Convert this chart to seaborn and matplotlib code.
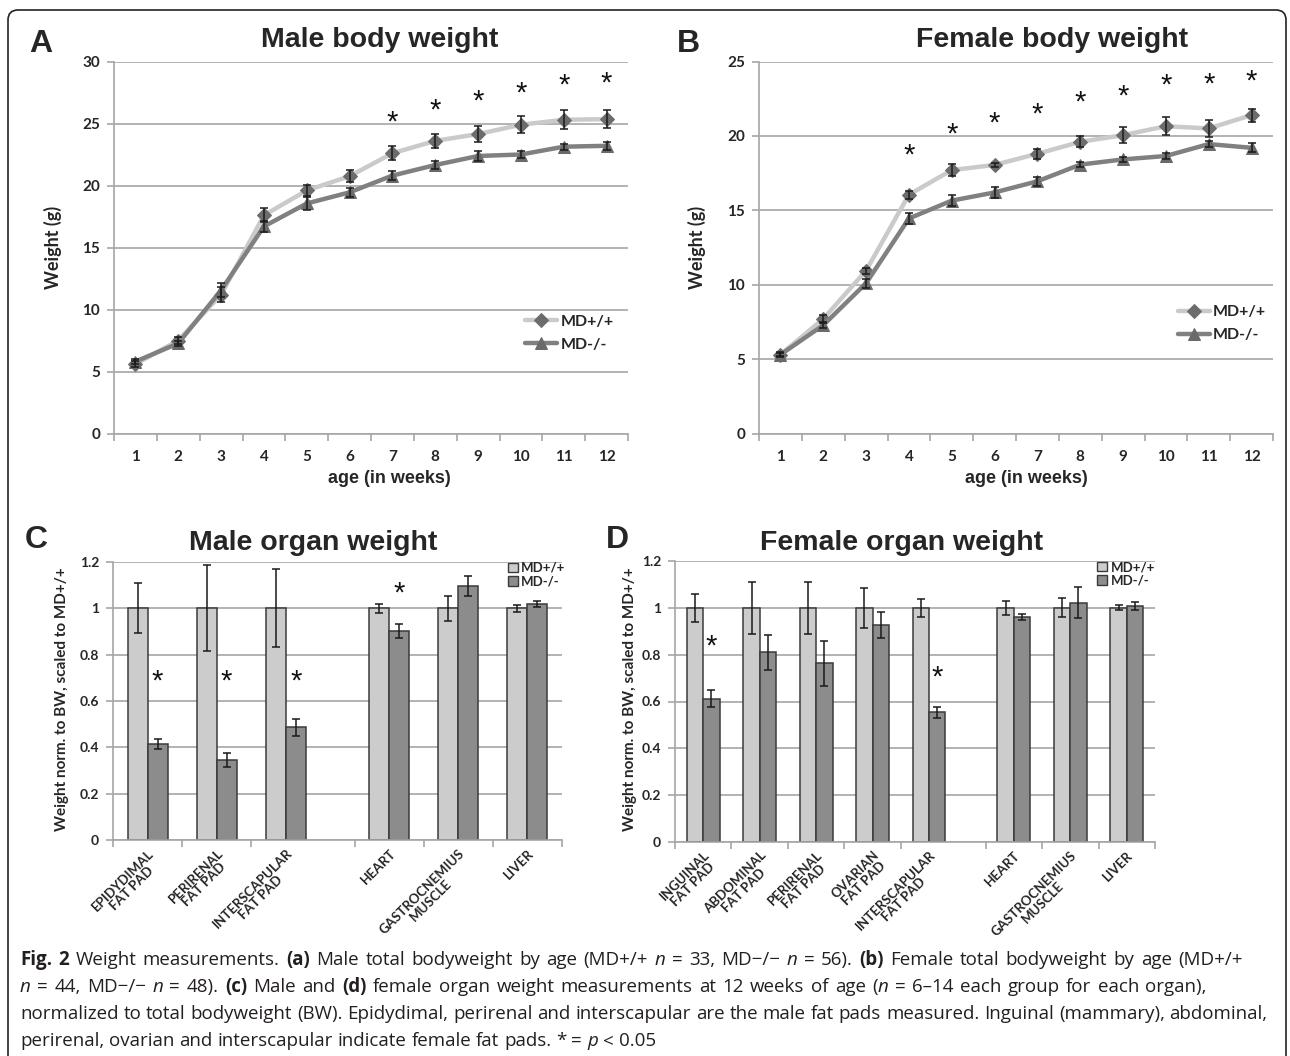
import re
import numpy as np
import pandas as pd
import seaborn as sns
import matplotlib.pyplot as plt
from matplotlib.patches import FancyBboxPatch, Patch
from matplotlib.transforms import IdentityTransform, offset_copy
from matplotlib.font_manager import FontProperties

# ---------------- data ----------------
weeks = list(range(1, 13))

male_wt = [5.6, 7.5, 11.2, 17.6, 19.6, 20.75, 22.6, 23.6, 24.15, 24.9, 25.3, 25.35]
male_wt_err = [0.25, 0.25, 0.6, 0.55, 0.43, 0.5, 0.56, 0.55, 0.63, 0.69, 0.78, 0.74]
male_ko = [5.8, 7.27, 11.55, 16.7, 18.55, 19.45, 20.8, 21.65, 22.38, 22.5, 23.13, 23.2]
male_ko_err = [0.2, 0.2, 0.55, 0.47, 0.5, 0.35, 0.38, 0.35, 0.4, 0.3, 0.25, 0.3]
male_star_weeks = [7, 8, 9, 10, 11, 12]
male_star_y = [25.7, 26.7, 27.4, 28.1, 28.7, 28.9]

female_wt = [5.3, 7.7, 10.95, 16.05, 17.7, 18.05, 18.8, 19.6, 20.05, 20.65, 20.5, 21.4]
female_wt_err = [0.15, 0.27, 0.2, 0.28, 0.41, 0.15, 0.33, 0.37, 0.56, 0.62, 0.56, 0.44]
female_ko = [5.3, 7.28, 10.1, 14.45, 15.65, 16.2, 16.95, 18.07, 18.42, 18.65, 19.45, 19.2]
female_ko_err = [0.12, 0.2, 0.3, 0.36, 0.38, 0.36, 0.29, 0.19, 0.17, 0.23, 0.22, 0.3]
female_star_weeks = [4, 5, 6, 7, 8, 9, 10, 11, 12]
female_star_y = [19.25, 20.6, 21.4, 22.0, 22.8, 23.2, 23.9, 24.0, 24.2]

male_organs = ['EPIDYDIMAL\nFAT PAD', 'PERIRENAL\nFAT PAD', 'INTERSCAPULAR\nFAT PAD',
               'HEART', 'GASTROCNEMIUS\nMUSCLE', 'LIVER']
male_n_fat = 3
male_organ_wt = [1.0, 1.0, 1.0, 1.0, 1.0, 1.0]
male_organ_wt_err = [0.108, 0.186, 0.168, 0.018, 0.054, 0.015]
male_organ_ko = [0.414, 0.347, 0.486, 0.902, 1.096, 1.019]
male_organ_ko_err = [0.02, 0.03, 0.037, 0.03, 0.044, 0.012]
male_organ_star = [0, 1, 2, 3]
male_organ_star_y = [0.717, 0.717, 0.717, 1.098]

female_organs = ['INGUINAL\nFAT PAD', 'ABDOMINAL\nFAT PAD', 'PERIRENAL\nFAT PAD', 'OVARIAN\nFAT PAD',
                 'INTERSCAPULAR\nFAT PAD', 'HEART', 'GASTROCNEMIUS\nMUSCLE', 'LIVER']
female_n_fat = 5
female_organ_wt = [1.0, 1.0, 1.0, 1.0, 1.0, 1.0, 1.0, 1.0]
female_organ_wt_err = [0.06, 0.111, 0.111, 0.084, 0.038, 0.03, 0.04, 0.01]
female_organ_ko = [0.612, 0.811, 0.763, 0.928, 0.554, 0.961, 1.022, 1.007]
female_organ_ko_err = [0.035, 0.075, 0.095, 0.056, 0.024, 0.013, 0.067, 0.018]
female_organ_star = [0, 4]
female_organ_star_y = [0.868, 0.737]

caption = [
    [("Fig. 2", 'b'), (" Weight measurements. ", 'r'), ("(a)", 'b'),
     (" Male total bodyweight by age (MD+/+ ", 'r'), ("n", 'i'), (" = 33, MD\u2212/\u2212 ", 'r'),
     ("n", 'i'), (" = 56). ", 'r'), ("(b)", 'b'), (" Female total bodyweight by age (MD+/+", 'r')],
    [("n", 'i'), (" = 44, MD\u2212/\u2212 ", 'r'), ("n", 'i'), (" = 48). ", 'r'), ("(c)", 'b'),
     (" Male and ", 'r'), ("(d)", 'b'),
     (" female organ weight measurements at 12 weeks of age (", 'r'), ("n", 'i'),
     (" = 6\u201314 each group for each organ),", 'r')],
    [("normalized to total bodyweight (BW). Epidydimal, perirenal and interscapular are the male "
      "fat pads measured. Inguinal (mammary), abdominal,", 'r')],
    [("perirenal, ovarian and interscapular indicate female fat pads. * = ", 'r'), ("p", 'i'),
     (" < 0.05", 'r')],
]

# ---------------- styling ----------------
sns.set_theme(style='white')
plt.rcParams['font.family'] = ['Lato', 'DejaVu Sans']

W, H = 1290, 1056
fig = plt.figure(figsize=(W / 100, H / 100), dpi=100)

GRID = '#a6a6a6'
WT_LINE, WT_MARK = '#cacaca', '#6c6c6c'
KO_LINE, KO_MARK = '#808080', '#6a6a6a'
LIGHT_BAR, DARK_BAR, BAR_EDGE = '#cccccc', '#8c8c8c', '#3a3a3a'
ARIAL = ['Liberation Sans', 'DejaVu Sans']


def rect(left, top, right, bottom):
    return [left / W, 1 - bottom / H, (right - left) / W, (bottom - top) / H]


def style_axes(ax, ytick_size):
    for s in ['top', 'right']:
        ax.spines[s].set_visible(False)
    for s in ['left', 'bottom']:
        ax.spines[s].set_color(GRID)
        ax.spines[s].set_linewidth(1.2)
    ax.yaxis.grid(True, color=GRID, lw=1.2)
    ax.xaxis.grid(False)
    ax.set_axisbelow(True)
    ax.tick_params(axis='y', which='major', left=True, direction='out', length=5, width=1.2,
                   color=GRID, pad=5, labelsize=ytick_size)
    ax.tick_params(axis='x', which='major', bottom=True, length=0)
    ax.tick_params(axis='x', which='minor', bottom=True, direction='out', length=5, width=1.2,
                   color=GRID)
    for lab in ax.get_yticklabels():
        lab.set_fontweight('bold')


def add_stars(ax, xs, ys, size):
    tr = offset_copy(ax.transData, fig=fig, y=-0.55 * size, units='points')
    for x, y in zip(xs, ys):
        ax.text(x, y, '*', transform=tr, ha='center', va='baseline', fontsize=size,
                family=ARIAL, color='#111111')


def body_panel(box, wt, wt_err, ko, ko_err, star_w, star_y, ymax, leg_anchor, xlab_x, ylab_x):
    ax = fig.add_axes(rect(*box))
    sns.lineplot(x=weeks, y=wt, ax=ax, color=WT_LINE, lw=3.2, marker='D', markersize=7,
                 markerfacecolor=WT_MARK, markeredgecolor=WT_MARK, label='MD+/+')
    sns.lineplot(x=weeks, y=ko, ax=ax, color=KO_LINE, lw=3.2, marker='^', markersize=9,
                 markerfacecolor=KO_MARK, markeredgecolor=KO_MARK, label='MD-/-')
    ax.errorbar(weeks, wt, yerr=wt_err, fmt='none', ecolor='#1a1a1a', elinewidth=1.1,
                capsize=3.2, capthick=1.1, zorder=4)
    ax.errorbar(weeks, ko, yerr=ko_err, fmt='none', ecolor='#1a1a1a', elinewidth=1.1,
                capsize=3.2, capthick=1.1, zorder=4)
    ax.set_xlim(0.5, 12.5)
    ax.set_ylim(0, ymax)
    ax.set_yticks(np.arange(0, ymax + 1, 5))
    ax.set_xticks(weeks)
    ax.set_xticklabels([str(w) for w in weeks], fontsize=11, fontweight='bold')
    ax.set_xticks(np.arange(0.5, 13, 1), minor=True)
    style_axes(ax, 11)
    ax.tick_params(axis='x', which='major', pad=12)
    ax.set_xlabel('age (in weeks)', fontsize=13, fontweight='bold', family=ARIAL)
    ax.xaxis.set_label_coords(xlab_x, -0.12)
    ax.xaxis.label.set_va('center')
    ax.set_ylabel('Weight (g)', fontsize=13, fontweight='bold')
    ax.yaxis.set_label_coords(ylab_x, 0.5)
    ax.yaxis.label.set_va('center')
    ax.legend(loc='upper left', bbox_to_anchor=leg_anchor, frameon=False, handlelength=2.0,
              handletextpad=0.2, labelspacing=0.55, borderpad=0, borderaxespad=0,
              prop=FontProperties(family='Lato', weight='bold', size=11.5))
    add_stars(ax, star_w, star_y, 21)
    return ax


def organ_panel(box, organs, n_fat, wt, wt_err, ko, ko_err, star_idx, star_y, ylab_x):
    ax = fig.add_axes(rect(*box))
    n = len(organs)
    pos = [i if i < n_fat else i + 0.5 for i in range(n)]
    df = pd.DataFrame({'pos': pos * 2, 'weight': wt + ko,
                       'genotype': ['MD+/+'] * n + ['MD-/-'] * n})
    sns.barplot(data=df, x='pos', y='weight', hue='genotype', native_scale=True, width=0.58,
                palette=[LIGHT_BAR, DARK_BAR], edgecolor=BAR_EDGE, linewidth=1.1,
                errorbar=None, legend=False, ax=ax)
    centers = {}
    for cont, g, err in zip(ax.containers, ['MD+/+', 'MD-/-'], [wt_err, ko_err]):
        for bar in cont:
            cx = bar.get_x() + bar.get_width() / 2
            i = int(np.argmin(np.abs(np.array(pos) - cx)))
            centers[(g, i)] = cx
            ax.errorbar(cx, bar.get_height(), yerr=err[i], fmt='none', ecolor='#1a1a1a',
                        elinewidth=1.1, capsize=3, capthick=1.1, zorder=4)
    add_stars(ax, [centers[('MD-/-', i)] for i in star_idx], star_y, 21)
    ax.set_xlim(-0.5, pos[-1] + 0.5)
    ax.set_ylim(0, 1.2)
    yt = np.round(np.arange(0, 1.21, 0.2), 1)
    ax.set_yticks(yt)
    ax.set_yticklabels([f'{v:g}' for v in yt])
    bounds = [p - 0.5 for p in pos] + [pos[-1] + 0.5]
    ax.set_xticks(bounds, minor=True)
    ax.set_xticks(pos)
    ax.set_xticklabels(organs, rotation=45, ha='right', rotation_mode='anchor',
                       multialignment='center', fontsize=9.5, fontweight='bold',
                       linespacing=1.0)
    style_axes(ax, 10)
    ax.tick_params(axis='x', which='major', pad=5)
    ax.set_xlabel('')
    ax.set_ylabel('Weight norm. to BW, scaled to MD+/+', fontsize=11, fontweight='bold')
    ax.yaxis.set_label_coords(ylab_x, 0.507)
    ax.yaxis.label.set_va('center')
    handles = [Patch(facecolor=LIGHT_BAR, edgecolor=BAR_EDGE, label='MD+/+'),
               Patch(facecolor=DARK_BAR, edgecolor=BAR_EDGE, label='MD-/-')]
    ax.legend(handles=handles, loc='upper left', bbox_to_anchor=(0.88, 1.0), frameon=False,
              handlelength=0.75, handleheight=0.75, handletextpad=0.25, labelspacing=0.1,
              borderpad=0, borderaxespad=0,
              prop=FontProperties(family='Lato', weight='bold', size=9.5))
    return ax


body_panel((114, 61.5, 628, 433.5), male_wt, male_wt_err, male_ko, male_ko_err,
           male_star_weeks, male_star_y, 30, (0.80, 0.32), 0.535, -0.119)
body_panel((759, 61.5, 1273, 433.5), female_wt, female_wt_err, female_ko, female_ko_err,
           female_star_weeks, female_star_y, 25, (0.815, 0.345), 0.521, -0.121)
organ_panel((113, 562, 562, 840), male_organs, male_n_fat, male_organ_wt, male_organ_wt_err,
            male_organ_ko, male_organ_ko_err, male_organ_star, male_organ_star_y, -0.114)
organ_panel((675, 561, 1155, 842), female_organs, female_n_fat, female_organ_wt,
            female_organ_wt_err, female_organ_ko, female_organ_ko_err, female_organ_star,
            female_organ_star_y, -0.094)

# titles and panel letters
for txt, x, y in [('Male body weight', 380, 40), ('Female body weight', 1052, 40),
                  ('Male organ weight', 313, 543), ('Female organ weight', 902, 543)]:
    fig.text(x / W, 1 - y / H, txt, ha='center', va='center', fontsize=20.5,
             fontweight='bold', family=ARIAL)
for txt, x, y in [('A', 41, 44), ('B', 688, 44), ('C', 36, 540), ('D', 617, 540)]:
    fig.text(x / W, 1 - y / H, txt, ha='center', va='center', fontsize=23,
             fontweight='bold', family=ARIAL)

# frame around the figure
fig.add_artist(FancyBboxPatch((8, -20), 1278, 1056 - 10 + 20,
                              boxstyle='round,pad=0,rounding_size=10', transform=IdentityTransform(),
                              fill=False, edgecolor='#222222', linewidth=1.2))

# caption with mixed styles (lines 1-3 stretched a little towards the reference line ends)
renderer = fig.canvas.get_renderer()
CAP_FONT = ['Open Sans', 'DejaVu Sans']


def seg_prop(style, size):
    return FontProperties(family=CAP_FONT, size=size,
                          weight='bold' if style == 'b' else 'normal',
                          style='italic' if style == 'i' else 'normal')


def seg_width(text, style, size):
    p = seg_prop(style, size)
    w1 = renderer.get_text_width_height_descent(text + '|', p, ismath=False)[0]
    w0 = renderer.get_text_width_height_descent('|', p, ismath=False)[0]
    return w1 - w0


def line_width(line, size):
    return sum(seg_width(t, s, size) for t, s in line)


cap_size = 12 * 1245 / line_width(caption[2], 12)
line_ends = [1262, 1245, 1265, None]
for line, base, end in zip(caption, [965, 992, 1019, 1046], line_ends):
    n_spaces = sum(t.count(' ') for t, s in line)
    extra = 0 if end is None else (end - 20 - line_width(line, cap_size)) / n_spaces
    extra = min(max(extra, 0), 1.5)
    x = 20
    for t, s in line:
        for tok in re.split(r'( )', t):
            if tok == '':
                continue
            if tok == ' ':
                x += seg_width(' ', s, cap_size) + extra
                continue
            fig.text(x / W, 1 - base / H, tok, fontproperties=seg_prop(s, cap_size),
                     va='baseline', ha='left', color='#231f20')
            x += seg_width(tok, s, cap_size)

fig.savefig('out.png', dpi=100)
